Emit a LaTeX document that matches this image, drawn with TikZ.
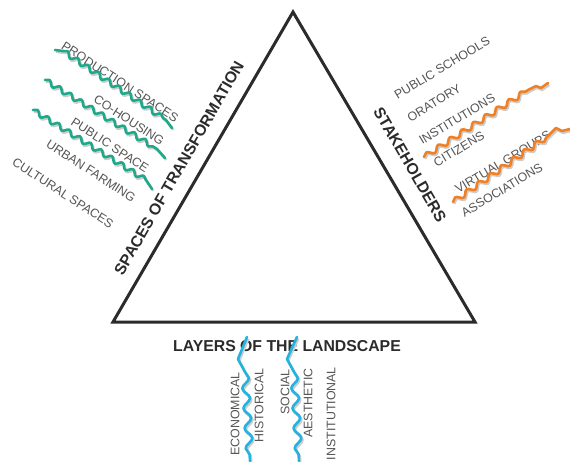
\documentclass[tikz,border=0pt]{standalone}
\usepackage{fontspec}
\setmainfont{Liberation Sans}
\usetikzlibrary{decorations.pathmorphing}
\definecolor{tgreen}{HTML}{1FA98B}
\definecolor{torange}{HTML}{F08026}
\definecolor{tblue}{HTML}{22B3E0}
\definecolor{tgray}{HTML}{555555}
\definecolor{tline}{HTML}{2B2B2B}
\begin{document}
\begin{tikzpicture}[x=1pt,y=-1pt,
  heading/.style={font=\fontsize{15.8}{16}\selectfont\bfseries, text=tline, inner sep=0pt},
  lbl/.style={font=\fontsize{12.4}{13}\selectfont, text=tgray, inner sep=0pt},
  wave/.style={line width=2.6pt, line cap=round, line join=round,
    preaction={draw=black!20, line width=2.6pt, transform canvas={shift={(1.2pt,-1.8pt)}}}},
  wigg/.style={decorate, decoration={snake, segment length=12.5pt, amplitude=2.4pt}},
  wigo/.style={decorate, decoration={snake, segment length=14pt, amplitude=2.6pt}},
  wigb/.style={decorate, decoration={snake, segment length=20pt, amplitude=3.6pt}},
]
\useasboundingbox[fill=white] (0,0) rectangle (570,461);

% triangle
\coordinate (top) at (293,12);
\coordinate (bl) at (113,322);
\coordinate (br) at (475,322);
\draw[line width=3pt, tline, line join=miter] (top) -- (bl) -- (br) -- cycle;

% headings
\node[heading, rotate=60] (spaces) at (179,168) {SPACES OF TRANSFORMATION};
\node[heading, rotate=-60] (stake) at (410,165) {STAKEHOLDERS};
\node[heading] (layers) at (287,346) {LAYERS OF THE LANDSCAPE};

% left labels
\node[lbl, rotate=-33] (prod) at (120,82) {PRODUCTION SPACES};
\node[lbl, rotate=-33] (coh) at (129,120) {CO-HOUSING};
\node[lbl, rotate=-33] (pub) at (110,145) {PUBLIC SPACE};
\node[lbl, rotate=-33] (urb) at (91,171) {URBAN FARMING};
\node[lbl, rotate=-33] (cult) at (63,193) {CULTURAL SPACES};

% right labels
\node[lbl, rotate=31] (schools) at (442,68) {PUBLIC SCHOOLS};
\node[lbl, rotate=31] (orat) at (434,103) {ORATORY};
\node[lbl, rotate=31] (inst) at (457,119) {INSTITUTIONS};
\node[lbl, rotate=31] (citi) at (459,149) {CITIZENS};
\node[lbl, rotate=31] (virt) at (503,162) {VIRTUAL GROUPS};
\node[lbl, rotate=31] (assoc) at (502,190) {ASSOCIATIONS};

% bottom labels
\node[lbl, rotate=90, anchor=east] (econ) at (235,372) {ECONOMICAL};
\node[lbl, rotate=90, anchor=east] (hist) at (259,368) {HISTORICAL};
\node[lbl, rotate=90, anchor=east] (soc) at (285,369) {SOCIAL};
\node[lbl, rotate=90, anchor=east] (aest) at (308,368) {AESTHETIC};
\node[lbl, rotate=90, anchor=east] (instl) at (331,367) {INSTITUTIONAL};

% green waves
\draw[wave, tgreen] (55,50) -- (63,51) decorate[wigg]{-- (166,120)} -- (172,128);
\draw[wave, tgreen] (45,80) decorate[wigg]{-- (157,149)} -- (165,158);
\draw[wave, tgreen] (33,110) decorate[wigg]{-- (146,180)} -- (152,189);

% orange waves
\draw[wave, torange] (424,157) decorate[wigo]{-- (528,90)} -- (536,86) -- (541,88) -- (548,83);
\draw[wave, torange] (453,202) decorate[wigo]{-- (548,136)} -- (556,128) -- (562,131) -- (570,129);

% blue waves
\draw[wave, tblue] (247,337) -- (238,359) -- (245,372) decorate[wigb]{-- (250,461)};
\draw[wave, tblue] (297,337) -- (287,359) -- (294,372) decorate[wigb]{-- (299,461)};
\end{tikzpicture}
\end{document}
